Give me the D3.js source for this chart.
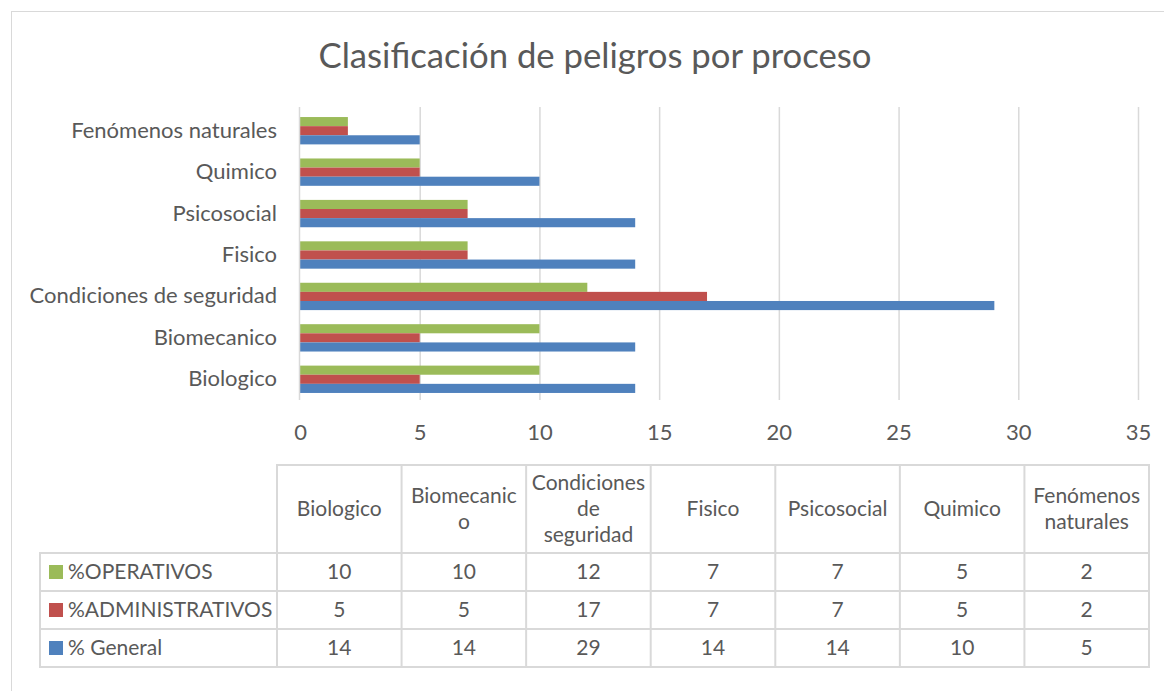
<!DOCTYPE html>
<html>
<head>
<meta charset="utf-8">
<script src="https://cdn.jsdelivr.net/npm/d3@7"></script>
<style>
  body { margin: 0; background: #fff; }
  text { font-family: Lato, "Open Sans", sans-serif; fill: #595959; }
</style>
</head>
<body>
<div id="chart"></div>
<script>
const categories = ["Biologico", "Biomecanico", "Condiciones de seguridad", "Fisico", "Psicosocial", "Quimico", "Fenómenos naturales"];
const headerLines = [["Biologico"], ["Biomecanic", "o"], ["Condiciones", "de", "seguridad"], ["Fisico"], ["Psicosocial"], ["Quimico"], ["Fenómenos", "naturales"]];
const seriesNames = ["%OPERATIVOS", "%ADMINISTRATIVOS", "% General"];
const operativos = [10, 10, 12, 7, 7, 5, 2];
const administrativos = [5, 5, 17, 7, 7, 5, 2];
const general = [14, 14, 29, 14, 14, 10, 5];
const xTicks = [0, 5, 10, 15, 20, 25, 30, 35];

const seriesValues = [operativos, administrativos, general];
const colors = ["#9BBB59", "#C0504D", "#4F81BD"];

const width = 1164;
const height = 691;
const fs = "21px";
const axisFs = "22px";

const svg = d3.select("#chart")
    .append("svg")
    .attr("width", width)
    .attr("height", height);

// chart area border (only top/left visible)
svg.append("rect")
    .attr("x", 11.5).attr("y", 11.5)
    .attr("width", 1200).attr("height", 700)
    .attr("fill", "none")
    .attr("stroke", "#D9D9D9");

svg.append("text")
    .attr("x", 595)
    .attr("y", 68)
    .attr("text-anchor", "middle")
    .style("font-size", "34.7px")
    .text("Clasificación de peligros por proceso");

const x = d3.scaleLinear().domain([0, 35]).range([300, 1138]);

// categories bottom to top
const y = d3.scaleBand()
    .domain(categories.slice().reverse())
    .range([110, 400])
    .paddingInner(0.34)
    .paddingOuter(0.17);

const yInner = d3.scaleBand()
    .domain(seriesNames)
    .range([0, y.bandwidth()]);

// gridlines
svg.append("g")
    .selectAll("line")
    .data(xTicks.filter(d => d > 0))
    .join("line")
    .attr("x1", d => x(d) + 0.5).attr("x2", d => x(d) + 0.5)
    .attr("y1", 107).attr("y2", 400)
    .attr("stroke", "#D9D9D9")
    .attr("stroke-width", 1.5);

// bars
const groups = svg.append("g")
    .selectAll("g")
    .data(categories)
    .join("g")
    .attr("transform", d => `translate(0,${y(d)})`);

groups.selectAll("rect")
    .data((d, i) => seriesNames.map((s, j) => ({ s, v: seriesValues[j][i], c: colors[j] })))
    .join("rect")
    .attr("x", x(0))
    .attr("y", d => yInner(d.s))
    .attr("width", d => x(d.v) - x(0))
    .attr("height", yInner.bandwidth())
    .attr("fill", d => d.c);

// vertical axis line
svg.append("line")
    .attr("x1", x(0) - 0.5).attr("x2", x(0) - 0.5)
    .attr("y1", 107).attr("y2", 400)
    .attr("stroke", "#D9D9D9")
    .attr("stroke-width", 1.5);

// category labels
svg.append("g")
    .selectAll("text")
    .data(categories)
    .join("text")
    .attr("x", 277)
    .attr("y", d => y(d) + y.bandwidth() / 2 + 7)
    .attr("text-anchor", "end")
    .style("font-size", axisFs)
    .text(d => d);

// x tick labels
const xAxis = svg.append("g")
    .attr("transform", "translate(0,440)")
    .call(d3.axisBottom(x).tickValues(xTicks).tickSize(0).tickPadding(0));
xAxis.select(".domain").remove();
xAxis.selectAll("text")
    .style("font-size", axisFs)
    .style("font-family", "Lato, 'Open Sans', sans-serif")
    .attr("fill", "#595959")
    .attr("dy", 0);

// data table
const colX = d3.scaleBand().domain(categories).range([277, 1149]);
const headTop = 465, headBottom = 553, rowH = 38;
const rowY = d3.scaleBand().domain(seriesNames).range([headBottom, headBottom + 3 * rowH]);
const table = svg.append("g");
const lineColor = "#D9D9D9";

// grid lines
table.append("rect")
    .attr("x", 277).attr("y", headTop)
    .attr("width", 1149 - 277).attr("height", headBottom + 3 * rowH - headTop)
    .attr("fill", "none").attr("stroke", lineColor).attr("stroke-width", 2);
table.append("rect")
    .attr("x", 40).attr("y", headBottom)
    .attr("width", 1149 - 40).attr("height", 3 * rowH)
    .attr("fill", "none").attr("stroke", lineColor).attr("stroke-width", 2);
table.selectAll(".vline")
    .data(categories.slice(1))
    .join("line")
    .attr("x1", d => colX(d)).attr("x2", d => colX(d))
    .attr("y1", headTop).attr("y2", headBottom + 3 * rowH)
    .attr("stroke", lineColor).attr("stroke-width", 2);
table.selectAll(".hline")
    .data(seriesNames.slice(1))
    .join("line")
    .attr("x1", 40).attr("x2", 1149)
    .attr("y1", d => rowY(d)).attr("y2", d => rowY(d))
    .attr("stroke", lineColor).attr("stroke-width", 2);

// header texts
table.selectAll(".head")
    .data(categories)
    .join("text")
    .attr("text-anchor", "middle")
    .style("font-size", fs)
    .each(function (d, i) {
        const lines = headerLines[i];
        const lh = 26;
        const cy = (headTop + headBottom) / 2 - (lines.length - 1) * lh / 2 + 7;
        d3.select(this).selectAll("tspan")
            .data(lines)
            .join("tspan")
            .attr("x", colX(d) + colX.bandwidth() / 2)
            .attr("y", (l, k) => cy + k * lh)
            .text(l => l);
    });

// row labels with legend keys
const rows = table.selectAll(".row")
    .data(seriesNames)
    .join("g")
    .attr("transform", d => `translate(0,${rowY(d)})`);
rows.append("rect")
    .attr("x", 49).attr("y", rowH / 2 - 7)
    .attr("width", 14).attr("height", 14)
    .attr("fill", (d, i) => colors[i]);
rows.append("text")
    .attr("x", 68).attr("y", rowH / 2 + 7)
    .style("font-size", fs)
    .text(d => d);

// row values
rows.each(function (s, j) {
    d3.select(this).selectAll(".val")
        .data(seriesValues[j])
        .join("text")
        .attr("x", (v, i) => colX(categories[i]) + colX.bandwidth() / 2)
        .attr("y", rowH / 2 + 7)
        .attr("text-anchor", "middle")
        .style("font-size", fs)
        .text(v => v);
});
</script>
</body>
</html>
